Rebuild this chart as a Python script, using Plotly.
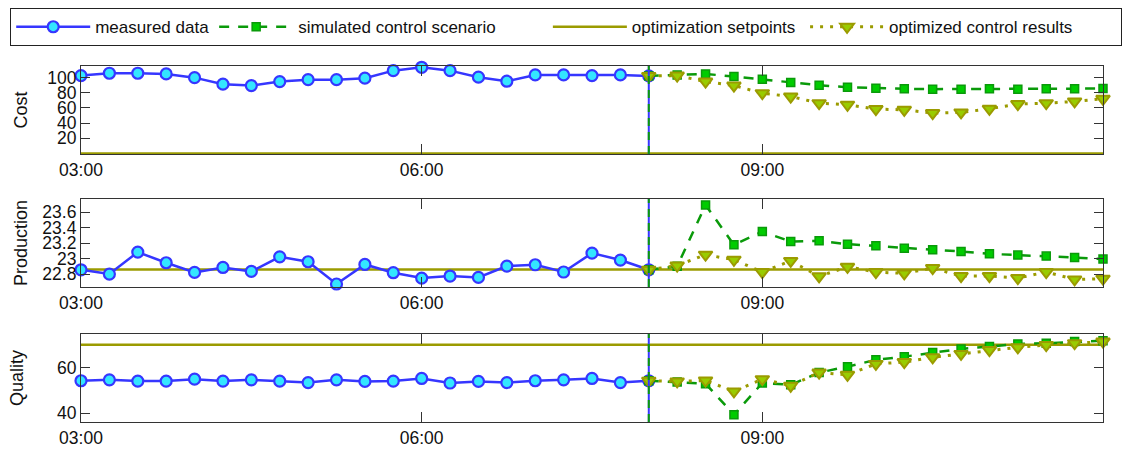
import plotly.graph_objects as go

DAY = "2021-01-01 "

# ---- time stamps (15 min samples) ----
times_measured = ["03:00", "03:15", "03:30", "03:45", "04:00", "04:15", "04:30", "04:45",
                  "05:00", "05:15", "05:30", "05:45", "06:00", "06:15", "06:30", "06:45",
                  "07:00", "07:15", "07:30", "07:45", "08:00"]
times_control = ["08:00", "08:15", "08:30", "08:45", "09:00", "09:15", "09:30", "09:45",
                 "10:00", "10:15", "10:30", "10:45", "11:00", "11:15", "11:30", "11:45", "12:00"]
time_range = ["03:00", "12:00"]
control_start = "08:00"
tick_times = ["03:00", "06:00", "09:00"]

# ---- series names ----
series_names = ["measured data", "simulated control scenario",
                "optimization setpoints", "optimized control results"]

# ---- Cost ----
cost_measured = [102.4, 105.5, 105.5, 104.6, 99.7, 91.1, 89.3, 94.5, 97.1, 97.1, 99.0,
                 108.9, 113.3, 108.9, 100.3, 95.0, 103.3, 103.3, 102.4, 103.3, 102.0]
cost_simulated = [102.0, 103.3, 104.6, 101.1, 97.6, 93.2, 89.8, 87.2, 85.8, 85.0, 84.6,
                  84.6, 85.0, 84.6, 85.0, 85.0, 85.4]
cost_optimized = [102.0, 102.4, 94.5, 89.3, 79.3, 74.9, 66.2, 64.1, 58.4, 57.5, 53.2,
                  54.0, 58.8, 65.0, 66.2, 68.4, 71.9]
cost_setpoint = [0, 0]

# ---- Production ----
production_measured = [22.855, 22.80, 23.084, 22.946, 22.821, 22.885, 22.834, 23.023, 22.959,
                       22.671, 22.924, 22.817, 22.748, 22.774, 22.756, 22.903, 22.92, 22.826,
                       23.071, 22.981, 22.855]
production_simulated = [22.855, 22.90, 23.694, 23.178, 23.35, 23.22, 23.23, 23.187, 23.165,
                        23.135, 23.114, 23.092, 23.062, 23.045, 23.032, 23.014, 22.994]
production_optimized = [22.855, 22.91, 23.05, 22.985, 22.826, 22.97, 22.77, 22.894, 22.826,
                        22.808, 22.877, 22.774, 22.774, 22.748, 22.826, 22.73, 22.74]
production_setpoint = [22.86, 22.86]

# ---- Quality ----
quality_measured = [54.2, 54.6, 54.05, 54.05, 54.9, 54.05, 54.6, 54.05, 53.4, 54.6, 53.9,
                    54.05, 55.2, 53.2, 53.9, 53.4, 54.2, 54.6, 55.2, 53.4, 54.2]
quality_simulated = [54.2, 53.7, 52.9, 39.3, 53.2, 52.4, 57.8, 60.4, 63.4, 64.8, 66.6,
                     68.2, 69.2, 70.4, 70.7, 71.4, 71.8]
quality_optimized = [54.2, 53.9, 54.3, 49.5, 54.9, 52.0, 57.8, 56.8, 61.6, 62.4, 64.5,
                     66.0, 67.7, 68.9, 69.9, 70.7, 71.4]
quality_setpoint = [70, 70]

W, H = 1124, 453
# ---- panel settings ----
panels = [
    dict(title="Cost", measured=cost_measured, simulated=cost_simulated,
         optimized=cost_optimized, setpoint=cost_setpoint,
         yrange=[-0.6, 115], tickvals=[20, 40, 60, 80, 100],
         ticktext=["20", "40", "60", "80", "100"], px=(66, 154), standoff=14),
    dict(title="Production", measured=production_measured, simulated=production_simulated,
         optimized=production_optimized, setpoint=production_setpoint,
         yrange=[22.632, 23.772], tickvals=[22.8, 23.0, 23.2, 23.4, 23.6],
         ticktext=["22.8", "23", "23.2", "23.4", "23.6"], px=(199, 287), standoff=10),
    dict(title="Quality", measured=quality_measured, simulated=quality_simulated,
         optimized=quality_optimized, setpoint=quality_setpoint,
         yrange=[36.06, 74.75], tickvals=[40, 60],
         ticktext=["40", "60"], px=(334, 422), standoff=28),
]
x_domain = [81 / W, 1103 / W]

BLUE = "#3636ff"
CYAN = "#33e6ff"
GREEN = "#0a9a0a"
GREEN_FILL = "#00cc00"
OLIVE = "#9b9b00"
OLIVE_FILL = "#99cc00"
FONT = "Liberation Sans, Arial, sans-serif"
NB = "\u00a0"
# trailing non-breaking spaces widen legend entries (spacing only)
legend_pad = [0, 10, 1, 9]
legend_labels = [nm + NB * k for nm, k in zip(series_names, legend_pad)]

def ts(lst):
    return [DAY + t for t in lst]

fig = go.Figure()

for i, p in enumerate(panels):
    n = "" if i == 0 else str(i + 1)
    xa, ya = "x" + n, "y" + n
    show = i == 0
    fig.add_trace(go.Scatter(
        x=ts(time_range), y=p["setpoint"], xaxis=xa, yaxis=ya, mode="lines",
        line=dict(color=OLIVE, width=2.5), name=legend_labels[2],
        showlegend=show, legendrank=3, hoverinfo="skip"))
    fig.add_trace(go.Scatter(
        x=ts(times_measured), y=p["measured"], xaxis=xa, yaxis=ya, mode="lines+markers",
        line=dict(color=BLUE, width=2.5),
        marker=dict(symbol="circle", size=11, color=CYAN, line=dict(color=BLUE, width=2.2)),
        name=legend_labels[0], showlegend=show, legendrank=1, cliponaxis=False))
    fig.add_trace(go.Scatter(
        x=ts(times_control), y=p["simulated"], xaxis=xa, yaxis=ya, mode="lines+markers",
        line=dict(color=GREEN, width=2.5, dash="10px,9px"),
        marker=dict(symbol="square", size=8, color=GREEN_FILL, line=dict(color=GREEN, width=1.5)),
        name=legend_labels[1], showlegend=show, legendrank=2, cliponaxis=False))
    fig.add_trace(go.Scatter(
        x=ts(times_control), y=p["optimized"], xaxis=xa, yaxis=ya, mode="lines+markers",
        line=dict(color=OLIVE, width=3, dash="3px,7px"),
        marker=dict(symbol="triangle-down", size=12, color=OLIVE_FILL, line=dict(color=OLIVE, width=2)),
        name=legend_labels[3], showlegend=show, legendrank=4, cliponaxis=False))
    fig.add_shape(type="line", xref=xa, yref=ya + " domain",
                  x0=DAY + control_start, x1=DAY + control_start, y0=0, y1=1,
                  line=dict(color=BLUE, width=2))
    fig.add_shape(type="line", xref=xa, yref=ya + " domain",
                  x0=DAY + control_start, x1=DAY + control_start, y0=0, y1=1,
                  line=dict(color=GREEN, width=2, dash="8px,6px"))

    axis_common = dict(showline=True, linecolor="#333333", linewidth=1.2, mirror="ticks",
                       ticks="inside", tickcolor="#333333", showgrid=False, zeroline=False,
                       automargin=False,
                       tickfont=dict(family=FONT, size=17.5, color="#111111"))
    top_px, bot_px = p["px"]
    fig.update_layout(**{
        ("xaxis" + n): dict(axis_common, type="date", range=ts(time_range),
                            tickvals=ts(tick_times), ticktext=tick_times, ticklen=10,
                            anchor=ya, domain=x_domain),
        ("yaxis" + n): dict(axis_common, range=p["yrange"], tickvals=p["tickvals"],
                            ticktext=p["ticktext"], ticklen=9,
                            domain=[1 - bot_px / H, 1 - top_px / H],
                            anchor=xa,
                            title=dict(text=p["title"], standoff=p["standoff"],
                                       font=dict(family=FONT, size=18, color="#111111"))),
    })

fig.update_layout(
    width=W, height=H,
    margin=dict(l=0, r=0, t=0, b=0, autoexpand=False),
    paper_bgcolor="white", plot_bgcolor="white",
    font=dict(family=FONT, size=17, color="#111111"),
    legend=dict(orientation="h", x=10 / W, y=1 - 8 / H, xanchor="left", yanchor="top",
                bordercolor="#222222", borderwidth=1.2, itemwidth=74,
                font=dict(family=FONT, size=17, color="#111111"),
                traceorder="normal", bgcolor="white"),
    showlegend=True,
)

fig.write_html("out.html")
